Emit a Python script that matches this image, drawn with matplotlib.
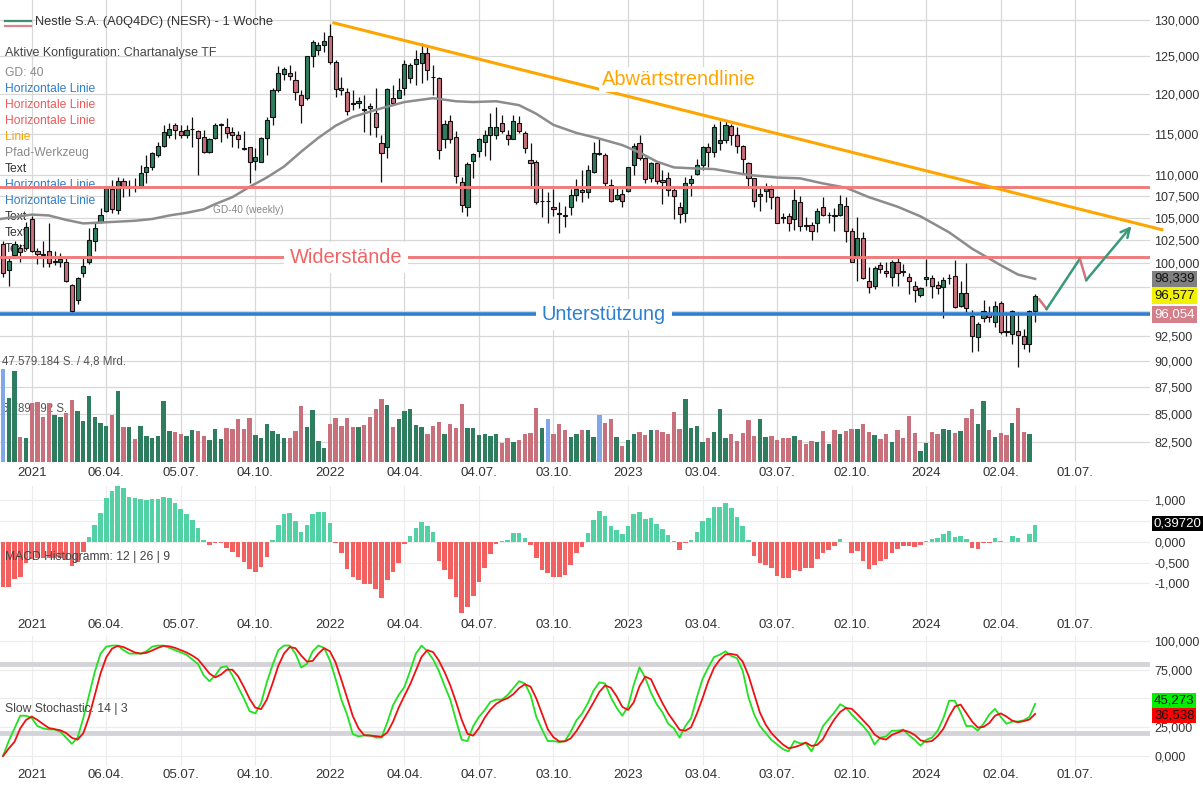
import matplotlib
matplotlib.use('Agg')
import matplotlib.pyplot as plt
import matplotlib.transforms as mtransforms
from matplotlib.ticker import FixedLocator, NullLocator, NullFormatter, FuncFormatter
import numpy as np

plt.rcParams['font.family'] = ['Liberation Sans', 'DejaVu Sans']

W, H = 1203, 785

# ── Weekly candles, first week = -5 (week 0 = 04.01.2021) ──
first_week = -5
opens = [102.1, 99.3, 100.9, 101.7, 101.7, 104.9, 101.3, 101.0, 101.3, 100.1,
         100.1, 100.2, 97.7, 96.1, 99.0, 100.1, 102.4, 104.6, 105.8, 108.4,
         105.9, 109.3, 108.6, 108.7, 108.7, 110.4, 110.9, 112.4, 113.5, 114.9,
         116.1, 115.4, 114.9, 115.6, 115.4, 114.6, 112.7, 114.5, 116.1, 115.8,
         115.2, 114.8, 113.3, 113.4, 111.7, 111.6, 114.5, 117.1, 120.6, 122.6,
         122.8, 121.9, 119.9, 119.5, 125.0, 125.9, 126.5, 127.8, 124.2, 120.8,
         120.3, 118.9, 118.9, 118.1, 118.5, 117.6, 113.9, 113.4, 119.5, 119.5,
         120.8, 122.1, 124.0, 124.1, 125.4, 122.3, 122.1, 114.4, 116.6, 114.6,
         109.2, 106.3, 111.7, 112.9, 114.0, 114.9, 114.9, 116.4, 114.8, 114.3,
         116.3, 115.1, 111.8, 111.6, 107.0, 107.0, 106.3, 105.6, 105.3, 106.3,
         107.7, 108.2, 108.0, 110.4, 112.6, 112.4, 108.8, 107.2, 107.8, 108.1,
         111.2, 113.8, 112.0, 109.6, 111.4, 109.4, 109.6, 108.2, 106.3, 105.6,
         109.0, 110.1, 111.2, 113.4, 112.7, 113.9, 114.2, 116.0, 114.9, 113.5,
         111.4, 109.6, 107.5, 108.1, 108.4, 107.4, 105.1, 105.2, 104.9, 106.8,
         104.2, 104.2, 104.5, 106.3, 105.3, 105.3, 105.4, 106.4, 103.6, 100.8,
         102.8, 98.1, 97.6, 99.8, 99.2, 98.5, 100.2, 99.2, 98.5, 97.6,
         96.6, 98.3, 98.4, 97.7, 97.5, 98.4, 98.6, 95.5, 96.9, 94.5,
         92.4, 94.3, 94.8, 93.9, 95.8, 93.0, 92.7, 93.0, 92.5, 91.7,
         95.0]
highs = [102.4, 100.6, 102.4, 102.1, 104.6, 105.2, 101.7, 102.4, 104.5, 101.3,
         101.1, 100.6, 97.8, 98.5, 100.6, 103.9, 104.5, 106.2, 108.7, 109.4,
         109.8, 109.7, 109.4, 109.6, 111.2, 112.4, 112.7, 114.0, 116.1, 116.3,
         116.4, 116.1, 116.1, 117.1, 115.5, 115.5, 114.5, 116.4, 116.4, 117.0,
         115.8, 115.3, 115.3, 113.4, 113.2, 114.6, 117.1, 120.8, 123.7, 123.6,
         123.9, 123.0, 120.6, 125.1, 127.3, 126.9, 128.3, 129.4, 124.5, 122.2,
         120.8, 120.6, 119.6, 119.9, 118.9, 120.8, 114.9, 120.8, 121.2, 122.1,
         124.5, 124.1, 125.9, 126.8, 126.5, 123.9, 122.3, 116.7, 117.4, 115.3,
         109.8, 111.5, 112.6, 114.5, 115.5, 117.6, 118.4, 117.4, 115.5, 117.3,
         117.2, 115.3, 113.8, 111.8, 108.5, 108.0, 108.3, 106.8, 106.4, 108.3,
         109.5, 110.6, 111.2, 114.0, 114.3, 112.6, 109.5, 108.7, 108.3, 111.0,
         113.8, 114.9, 112.2, 111.5, 111.5, 110.6, 110.4, 108.7, 106.8, 109.8,
         110.0, 111.9, 113.5, 113.9, 116.2, 116.6, 116.6, 116.2, 115.8, 113.6,
         111.5, 109.7, 108.7, 109.1, 108.8, 107.5, 105.6, 105.6, 108.3, 107.5,
         105.1, 104.6, 106.1, 107.4, 105.7, 106.1, 107.7, 107.4, 103.9, 105.1,
         103.4, 99.6, 99.7, 100.2, 100.2, 100.4, 100.6, 99.9, 99.0, 98.1,
         97.5, 100.5, 98.8, 98.1, 98.5, 98.9, 100.4, 98.1, 100.0, 95.1,
         93.9, 96.1, 95.5, 96.0, 96.0, 94.9, 95.1, 94.9, 93.2, 95.1,
         96.7]
lows = [98.5, 97.6, 100.6, 100.1, 101.5, 101.2, 99.9, 99.6, 99.6, 99.8,
        99.6, 98.0, 94.9, 95.7, 98.5, 99.9, 101.3, 104.5, 105.7, 105.6,
        105.5, 107.4, 107.5, 108.0, 108.5, 109.1, 110.6, 112.2, 113.4, 114.5,
        114.4, 114.5, 114.5, 113.4, 110.0, 112.6, 112.6, 114.3, 114.0, 114.5,
        113.4, 113.2, 113.0, 109.1, 110.6, 111.5, 112.4, 116.1, 120.3, 121.9,
        121.9, 119.3, 116.4, 119.3, 123.6, 125.2, 125.6, 124.0, 119.6, 119.9,
        117.4, 118.0, 118.2, 115.2, 114.9, 114.6, 109.2, 112.0, 118.6, 119.5,
        119.9, 121.5, 121.2, 121.5, 121.9, 119.9, 111.9, 113.2, 113.8, 109.1,
        105.7, 105.2, 109.7, 112.2, 112.3, 111.8, 114.3, 115.1, 113.6, 114.3,
        115.1, 112.6, 108.5, 106.6, 105.1, 104.4, 105.2, 103.3, 104.0, 105.4,
        106.9, 106.8, 107.3, 110.2, 112.4, 108.7, 106.8, 107.1, 106.3, 108.0,
        110.0, 111.8, 109.1, 109.2, 108.9, 106.6, 107.5, 104.9, 104.5, 104.6,
        107.5, 110.0, 110.6, 111.0, 112.2, 113.0, 113.9, 113.6, 112.6, 110.2,
        108.7, 106.3, 105.8, 106.8, 106.0, 104.4, 104.4, 103.5, 103.7, 103.5,
        103.7, 102.5, 103.4, 105.2, 104.5, 103.5, 105.2, 102.3, 100.1, 98.1,
        98.3, 96.9, 97.3, 99.0, 98.5, 97.6, 97.6, 98.6, 96.7, 95.9,
        96.4, 97.6, 96.3, 96.7, 94.3, 97.8, 95.3, 95.4, 94.9, 90.9,
        91.0, 93.9, 93.9, 93.4, 92.7, 92.5, 91.7, 89.4, 91.2, 90.9,
        93.9]
closes = [99.0, 100.3, 102.1, 101.2, 104.0, 101.3, 101.0, 100.9, 100.0, 100.3,
          100.5, 98.1, 95.0, 98.4, 99.7, 102.6, 103.9, 105.3, 108.5, 106.0,
          109.3, 108.7, 108.7, 108.6, 110.2, 110.9, 112.6, 113.5, 115.2, 115.6,
          115.5, 114.9, 115.5, 115.6, 114.5, 112.7, 114.3, 116.1, 116.2, 115.1,
          114.8, 114.3, 113.1, 111.6, 112.2, 114.5, 116.7, 120.6, 122.8, 123.3,
          122.4, 120.3, 118.6, 125.0, 126.9, 126.5, 127.1, 124.2, 120.7, 120.6,
          117.9, 118.8, 119.1, 118.0, 118.3, 115.8, 112.6, 120.7, 118.9, 120.6,
          124.0, 123.9, 124.7, 125.4, 123.2, 122.2, 113.0, 116.2, 114.4, 109.9,
          106.5, 111.3, 112.5, 114.4, 114.9, 115.9, 115.9, 115.4, 114.4, 116.6,
          115.3, 113.2, 111.4, 106.8, 107.0, 106.9, 106.0, 105.5, 105.2, 107.6,
          108.3, 108.0, 110.6, 112.6, 112.5, 109.1, 106.9, 107.6, 107.0, 110.9,
          113.5, 112.0, 109.5, 111.4, 109.3, 109.2, 108.2, 107.5, 105.5, 109.1,
          109.5, 111.2, 113.4, 112.7, 115.8, 114.2, 116.1, 114.9, 113.5, 111.9,
          109.6, 106.9, 107.8, 108.5, 107.4, 104.5, 105.0, 104.5, 107.1, 104.1,
          104.1, 103.6, 105.8, 105.3, 105.4, 105.2, 106.6, 103.6, 100.2, 102.8,
          98.4, 97.5, 99.5, 99.4, 99.0, 100.2, 99.0, 99.1, 98.1, 97.2,
          97.4, 98.5, 97.6, 97.4, 98.2, 98.4, 95.4, 96.9, 95.3, 92.5,
          93.7, 95.0, 94.4, 95.5, 92.9, 92.9, 95.0, 92.6, 91.7, 95.0,
          96.58]

# volume in million shares (last week has no bar yet)
volumes = [47.6, 32.6, 46.4, 12.8, 12.2, 30.1, 30.6, 23.0, 30.1, 24.0,
           23.0, 25.0, 31.6, 26.0, 20.9, 33.7, 23.0, 19.9, 18.4, 24.0,
           36.2, 17.9, 17.9, 11.7, 18.4, 13.3, 12.2, 13.3, 31.1, 15.8,
           15.3, 14.3, 13.3, 16.3, 15.8, 13.3, 11.2, 16.8, 11.7, 17.3,
           16.8, 21.9, 16.8, 22.4, 13.8, 12.2, 19.4, 15.8, 14.3, 12.2,
           12.2, 15.8, 28.6, 17.9, 26.5, 10.7, 7.1, 19.4, 22.4, 18.4,
           22.4, 17.9, 17.9, 18.9, 23.0, 27.0, 32.1, 29.1, 17.9, 21.9,
           26.0, 27.0, 18.9, 17.9, 14.3, 18.4, 20.4, 14.3, 19.4, 17.3,
           29.6, 17.3, 17.3, 13.8, 14.3, 13.3, 14.3, 9.7, 12.2, 10.2,
           11.2, 14.3, 14.8, 27.5, 17.3, 21.9, 14.3, 19.4, 16.3, 12.8,
           14.3, 16.3, 16.3, 12.8, 24.0, 19.9, 21.9, 12.8, 8.2, 11.2,
           14.3, 15.3, 13.8, 16.3, 16.3, 15.3, 14.3, 25.5, 16.8, 32.1,
           17.3, 18.4, 10.2, 12.2, 15.3, 27.0, 12.2, 14.3, 10.7, 14.8,
           21.4, 13.3, 21.9, 12.8, 13.3, 11.2, 12.2, 12.2, 13.3, 11.0,
           9.3, 10.7, 10.4, 15.8, 9.3, 16.2, 14.1, 15.8, 16.7, 17.0,
           19.5, 15.5, 13.6, 11.6, 14.4, 10.2, 16.3, 12.4, 23.5, 14.6,
           5.6, 9.8, 15.3, 14.1, 17.0, 16.3, 15.0, 15.8, 22.6, 26.9,
           19.2, 31.1, 16.2, 12.7, 14.6, 13.6, 20.0, 27.7, 15.3, 14.1]
blue_volume_weeks = [-5, 90, 99]

macd_hist = [-1.08, -1.08, -0.90, -0.84, -0.52, -0.42, -0.38, -0.38, -0.38, -0.40,
             -0.38, -0.44, -0.58, -0.48, -0.24, 0.12, 0.40, 0.68, 1.04, 1.22,
             1.34, 1.28, 1.08, 1.06, 1.02, 1.00, 1.02, 1.02, 1.08, 1.05,
             0.94, 0.78, 0.67, 0.52, 0.32, 0.04, -0.07, -0.02, -0.02, -0.14,
             -0.24, -0.36, -0.48, -0.66, -0.72, -0.60, -0.36, 0.04, 0.40, 0.66,
             0.68, 0.50, 0.23, 0.40, 0.66, 0.71, 0.71, 0.46, -0.02, -0.28,
             -0.66, -0.84, -0.92, -1.02, -1.02, -1.14, -1.36, -0.92, -0.72, -0.50,
             -0.06, 0.14, 0.34, 0.48, 0.38, 0.24, -0.46, -0.68, -0.90, -1.32,
             -1.72, -1.56, -1.30, -0.96, -0.62, -0.30, -0.06, 0.02, 0.04, 0.22,
             0.22, 0.08, -0.08, -0.40, -0.68, -0.76, -0.84, -0.84, -0.80, -0.56,
             -0.28, -0.12, 0.20, 0.52, 0.74, 0.62, 0.38, 0.28, 0.18, 0.38,
             0.66, 0.71, 0.55, 0.58, 0.42, 0.30, 0.15, 0.02, -0.20, -0.04,
             0.04, 0.24, 0.50, 0.58, 0.84, 0.84, 0.92, 0.82, 0.60, 0.38,
             0.04, -0.34, -0.50, -0.56, -0.62, -0.82, -0.88, -0.88, -0.68, -0.70,
             -0.64, -0.62, -0.42, -0.28, -0.20, -0.10, 0.06, 0.00, -0.26, -0.22,
             -0.46, -0.65, -0.56, -0.46, -0.42, -0.28, -0.17, -0.10, -0.10, -0.12,
             -0.09, 0.02, 0.06, 0.10, 0.18, 0.26, 0.12, 0.14, 0.06, -0.14,
             -0.17, -0.04, -0.02, 0.08, 0.02, 0.00, 0.14, 0.09, -0.01, 0.18,
             0.3972]

stoch_k = [0, 13, 24, 35, 35, 33, 26, 24, 23, 23,
           21, 16, 10.5, 16, 33, 53, 73, 89, 95, 96,
           96, 92, 89, 89, 89, 91, 95, 96, 96, 94,
           92, 90, 88, 84, 80, 70, 65, 70, 77, 78,
           70, 60, 50, 39, 37, 46, 64, 79, 92, 96,
           96, 89, 77, 80, 91, 96, 94, 83, 67, 49,
           36, 19, 17, 18, 18, 16, 16, 29, 44, 53,
           60, 74, 89, 96, 91, 84, 74, 61, 49, 31,
           14, 13, 26, 34, 40, 47, 49, 49, 53, 59,
           65, 63, 53, 34, 23, 13, 13, 12, 13, 21,
           31, 37, 46, 57, 64, 63, 51, 42, 35, 43,
           62, 77, 68, 55, 45, 38, 28, 24, 16, 26,
           33, 51, 67, 77, 86, 88, 91, 87, 85, 74,
           51, 36, 26, 20, 14, 10, 6, 4, 13, 11,
           11, 4, 14, 26, 32, 38, 45, 42, 36, 31,
           26, 20, 10, 16, 17, 22, 22, 23, 18, 14,
           9, 14, 16, 22, 33, 48, 48, 38, 26, 26,
           22, 28, 36, 41, 34, 28, 30, 30, 31, 34,
           45.27]
stoch_d = [0, 6.5, 12.3, 24, 31.3, 34.3, 31.3, 27.7, 24.3, 23.3,
           22.3, 20, 15.8, 14.2, 19.8, 34, 53, 71.7, 85.7, 93.3,
           95.7, 94.7, 92.3, 90, 89, 89.7, 91.7, 94, 95.7, 95.3,
           94, 92, 90, 87.3, 84, 78, 71.7, 68.3, 70.7, 75,
           75, 69.3, 60, 49.7, 42, 40.7, 49, 63, 78.3, 89,
           94.7, 93.7, 87.3, 82, 82.7, 89, 93.7, 91, 81.3, 66.3,
           50.7, 34.7, 24, 18, 17.7, 17.3, 16.7, 20.3, 29.7, 42,
           52.3, 62.3, 74.3, 86.3, 92, 90.3, 83, 73, 61.3, 47,
           31.3, 19.3, 17.7, 24.3, 33.3, 40.3, 45.3, 48.3, 50.3, 53.7,
           59, 62.3, 60.3, 50, 36.7, 23.3, 16.3, 12.7, 12.7, 15.3,
           21.7, 29.7, 38, 46.7, 55.7, 61.3, 59.3, 52, 42.7, 40,
           46.7, 60.7, 69, 66.7, 56, 46, 37, 30, 22.7, 22,
           25, 36.7, 50.3, 65, 76.7, 83.7, 88.3, 88.7, 87.7, 82,
           70, 53.7, 37.7, 27.3, 20, 14.7, 10, 6.7, 7.7, 9.3,
           11.7, 8.7, 9.7, 14.7, 24, 32, 38.3, 41.7, 41, 36.3,
           31, 25.7, 18.7, 15.3, 14.3, 18.3, 20.3, 22.3, 21, 18.3,
           13.7, 12.3, 13, 17.3, 23.7, 34.3, 43, 44.7, 37.3, 30,
           24.7, 25.3, 28.7, 35, 37, 34.3, 30.7, 29.3, 30.3, 31.7,
           36.54]

# GD-40 (weekly)
ma_weeks = [-5.5, 0, 3, 6, 9, 12, 15, 18, 21, 24, 27, 30, 32, 35, 38, 41, 44, 47, 50, 53,
            56, 60, 65, 70, 74, 77, 81, 85, 88, 91, 95, 99, 103, 106, 109, 112, 115, 119,
            125, 130, 134, 138, 142, 146, 151, 155, 160, 164, 169, 172, 175]
ma_values = [104.9, 105.4, 105.3, 104.8, 104.4, 104.5, 104.6, 104.7, 104.9, 105.3, 105.6,
             106.0, 106.6, 107.4, 108.6, 109.7, 111.0, 112.8, 114.5, 116.0, 117.1, 118.0,
             119.0, 119.5, 119.1, 119.0, 119.1, 118.6, 117.5, 116.1, 115.1, 114.4, 113.6,
             112.7, 111.6, 110.9, 110.8, 110.7, 110.0, 109.7, 109.6, 109.0, 108.5, 107.4,
             106.3, 105.2, 103.4, 101.6, 99.8, 98.8, 98.34]

# drawing tools
resistance_levels = [108.55, 100.65]
support_level = 94.65
trend_weeks = [52.7, 197.1]
trend_prices = [129.6, 103.7]
path_weeks = [175.7, 177.0, 182.8, 183.9, 191.8]
path_prices = [96.2, 95.2, 100.5, 98.2, 104.1]

tick_weeks = [0, 13, 26, 39, 52, 65, 78, 91, 104, 117, 130, 143, 156, 169, 182]
tick_labels = ['2021', '06.04.', '05.07.', '04.10.', '2022', '04.04.', '04.07.', '03.10.',
               '2023', '03.04.', '03.07.', '02.10.', '2024', '02.04.', '01.07.']
price_ticks = [82.5, 85, 87.5, 90, 92.5, 95, 97.5, 100, 102.5, 105, 107.5, 110,
               115, 120, 125, 130]
macd_ticks = [-1, -0.5, 0, 0.5, 1]
stoch_ticks = [0, 25, 50, 75, 100]
# scale labels that sit under the value boxes on the right
hidden_labels = [95, 97.5, 0.5, 50]

legend_items = [('GD: 40', '#8a8a8a'), ('Horizontale Linie', '#2f7fd0'),
                ('Horizontale Linie', '#f05a5a'), ('Horizontale Linie', '#f05a5a'),
                ('Linie', '#ffa500'), ('Pfad-Werkzeug', '#8a8a8a'), ('Text', '#333333'),
                ('Horizontale Linie', '#2f7fd0'), ('Horizontale Linie', '#2f7fd0'),
                ('Text', '#333333'), ('Text', '#333333'), ('Text', '#333333')]

GREEN = '#2f7d5f'
RED = '#c8707b'
BLUE_VOL = '#7fa7ea'
XMIN, XMAX = -5.53, 195.03

weeks = np.arange(first_week, first_week + len(closes))
o = np.array(opens); h = np.array(highs); l = np.array(lows); c = np.array(closes)
up = c >= o


def rect(top, bottom, left=0, right=1150):
    return [left / W, 1 - bottom / H, (right - left) / W, (bottom - top) / H]


def de_fmt(v, pos=None):
    if any(abs(v - hv) < 1e-6 for hv in hidden_labels):
        return ''
    return f'{v:.3f}'.replace('.', ',')


def clean(a):
    for s in a.spines.values():
        s.set_visible(False)


def style_axis(a, pad_x):
    a.yaxis.tick_right()
    a.yaxis.set_major_formatter(FuncFormatter(de_fmt))
    a.set_xticks(tick_weeks)
    a.set_xticklabels(tick_labels)
    a.tick_params(axis='y', length=0, pad=3, labelsize=9, labelcolor='#333333')
    a.tick_params(axis='x', length=0, pad=pad_x, labelsize=9.5, labelcolor='#333333')
    a.set_axisbelow(True)
    clean(a)


fig = plt.figure(figsize=(W / 100, H / 100), dpi=100)
fig.patch.set_facecolor('white')

# ════════ price panel ════════
ax = fig.add_axes(rect(0, 462))
axv = ax.twinx()
ax.set_yscale('log')
ax.set_xlim(XMIN, XMAX)
ax.set_ylim(80.72, 132.84)
ax.yaxis.set_major_locator(FixedLocator(price_ticks))
ax.yaxis.set_minor_locator(NullLocator())
ax.yaxis.set_minor_formatter(NullFormatter())
style_axis(ax, 3.6)
ax.grid(True, color='#d8d8d8', lw=0.9)

# volume
axv.set_ylim(0, 235.6)
axv.set_yticks([])
clean(axv)
nv = len(volumes)
vcol = [BLUE_VOL if w in blue_volume_weeks else (GREEN if u else RED)
        for w, u in zip(weeks[:nv], up[:nv])]
axv.bar(weeks[:nv], volumes, width=0.76, color=vcol, zorder=2)

ax.text(1.5 / 1150, 1 - 362 / 462, '47.579.184 S. / 4,8 Mrd.', transform=ax.transAxes,
        fontsize=8.3, color='#555555', va='center', zorder=1)
ax.text(1.5 / 1150, 1 - 409 / 462, '5.789.592 S.', transform=ax.transAxes,
        fontsize=8.3, color='#555555', va='center', zorder=1)

# legend / tool list (under the candles)
ax.plot([5 / 1150, 31 / 1150], [1 - 21 / 462] * 2, transform=ax.transAxes,
        color='#3f8f6f', lw=1.6, zorder=1)
ax.plot([5 / 1150, 31 / 1150], [1 - 25.5 / 462] * 2, transform=ax.transAxes,
        color='#d7868f', lw=1.6, zorder=1)
ax.text(35 / 1150, 1 - 22 / 462, 'Nestle S.A. (A0Q4DC) (NESR) - 1 Woche',
        transform=ax.transAxes, fontsize=9.3, color='#333333', va='center', zorder=1)
ax.text(5 / 1150, 1 - 53 / 462, 'Aktive Konfiguration: Chartanalyse TF',
        transform=ax.transAxes, fontsize=9, color='#444444', va='center', zorder=1)
for k, (txt, col) in enumerate(legend_items):
    ax.text(5 / 1150, 1 - (73 + 16 * k) / 462, txt, transform=ax.transAxes,
            fontsize=8.7, color=col, va='center', zorder=1)

# candles
ax.vlines(weeks, l, h, color='#111111', lw=0.9, zorder=3)
ax.bar(weeks, np.abs(c - o), bottom=np.minimum(o, c), width=0.72,
       color=np.where(up, GREEN, RED), edgecolor='#111111', linewidth=0.8, zorder=4)

# moving average
ax.plot(ma_weeks, ma_values, color='#8c8c8c', lw=1.8, zorder=5)
ax.text(37.8, 105.9, 'GD-40 (weekly)', fontsize=7.3, color='#888888',
        ha='center', va='center', zorder=5)

# horizontal lines + trend line
for lvl in resistance_levels:
    ax.axhline(lvl, color='#f07b7b', lw=2.1, zorder=5)
ax.axhline(support_level, color='#2f7fd1', lw=2.6, zorder=5)
ax.plot(trend_weeks, trend_prices, color='#ffa500', lw=2.2, zorder=5, clip_on=False)

box = dict(boxstyle='square,pad=0.3', facecolor='white', edgecolor='none')
ax.text(54.8, resistance_levels[1], 'Widerstände', fontsize=14.4, color='#f26464',
        ha='center', va='center', bbox=box, zorder=6)
ax.text(99.8, support_level, 'Unterstützung', fontsize=14.4, color='#2f80d0',
        ha='center', va='center', bbox=box, zorder=6)
ax.text(112.8, 121.9, 'Abwärtstrendlinie', fontsize=14.4, color='#ffa500',
        ha='center', va='center', bbox=dict(boxstyle='square,pad=0.15', facecolor='white',
                                             edgecolor='none'), zorder=6)

# path tool
seg_cols = ['#d9707f', '#3a9a78', '#d9707f']
for k in range(3):
    ax.plot(path_weeks[k:k + 2], path_prices[k:k + 2], color=seg_cols[k], lw=1.8, zorder=6)
ax.annotate('', xy=(path_weeks[4], path_prices[4]), xytext=(path_weeks[3], path_prices[3]),
            arrowprops=dict(arrowstyle='->', color='#3a9a78', lw=1.8, mutation_scale=16,
                            shrinkA=0, shrinkB=0), zorder=6)

# value boxes on the price scale
tp = mtransforms.blended_transform_factory(fig.transFigure, ax.transData)
for val, txt, bg, fg in [(ma_values[-1], '98,339', '#808080', '#111111'),
                         (closes[-1], '96,577', '#f2f200', '#111111'),
                         (support_level, '96,054', '#d4808a', 'white')]:
    ax.text(1154 / W, val, txt, transform=tp, fontsize=9.5, color=fg, ha='left', va='center',
            bbox=dict(boxstyle='square,pad=0.18', facecolor=bg, edgecolor='none'), zorder=7)

# ════════ MACD panel ════════
axm = fig.add_axes(rect(486, 616))
axm.set_xlim(XMIN, XMAX)
axm.set_ylim(-1.782, 1.336)
mh = np.array(macd_hist)
axm.bar(weeks, mh, width=0.8, color=np.where(mh >= 0, '#52d1a4', '#f26060'), zorder=2)
axm.set_yticks(macd_ticks)
style_axis(axm, 2.2)
axm.grid(True, color='#ececec', lw=0.8)
axm.text(5 / 1150, 1 - (557 - 486) / 130, 'MACD Histogramm: 12 | 26 | 9',
         transform=axm.transAxes, fontsize=8.7, color='#444444', va='center', zorder=3)
tm = mtransforms.offset_copy(mtransforms.blended_transform_factory(fig.transFigure, axm.transData),
                             fig=fig, y=2, units='dots')
axm.text(1154 / W, macd_hist[-1], '0,39720', transform=tm, fontsize=9.5, color='white',
         ha='left', va='center', bbox=dict(boxstyle='square,pad=0.12', facecolor='black',
                                           edgecolor='none'), zorder=7)

# ════════ Slow Stochastic panel ════════
axs = fig.add_axes(rect(636, 766))
axs.set_xlim(XMIN, XMAX)
axs.set_ylim(-8.7, 104.3)
axs.axhline(80, color='#d4d4d8', lw=3.5, zorder=1)
axs.axhline(20, color='#d4d4d8', lw=3.5, zorder=1)
axs.plot(weeks, stoch_k, color='#22e022', lw=1.3, zorder=3)
axs.plot(weeks, stoch_d, color='#ee1111', lw=1.3, zorder=3)
axs.set_yticks(stoch_ticks)
style_axis(axs, 2.2)
axs.grid(True, color='#ececec', lw=0.8)
axs.text(5 / 1150, 1 - (709 - 636) / 130, 'Slow Stochastic: 14 | 3',
         transform=axs.transAxes, fontsize=8.7, color='#444444', va='center', zorder=3)
ts = mtransforms.blended_transform_factory(fig.transFigure, axs.transData)
for val, txt, bg, dy in [(stoch_k[-1], '45,273', '#00ee00', 3.5),
                         (stoch_d[-1], '36,538', '#ff0000', -1.5)]:
    axs.text(1154 / W, val, txt, fontsize=9.5, color='#111111', ha='left', va='center',
             transform=mtransforms.offset_copy(ts, fig=fig, y=dy, units='dots'),
             bbox=dict(boxstyle='square,pad=0.12', facecolor=bg, edgecolor='none'), zorder=7)

plt.savefig('out.png', dpi=100, facecolor='white')
